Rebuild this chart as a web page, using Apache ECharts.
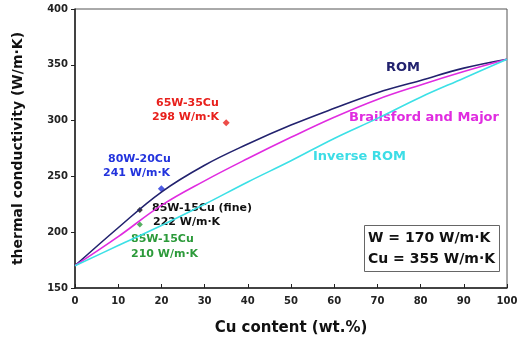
<!DOCTYPE html>
<html>
<head>
<meta charset="utf-8">
<script src="https://cdn.jsdelivr.net/npm/echarts@6/dist/echarts.min.js"></script>
<style>
html, body { margin: 0; padding: 0; background: #fff; }
#chart { width: 525px; height: 345px; }
</style>
</head>
<body>
<div id="chart"></div>
<script>
var cuContent = [0, 10, 20, 30, 40, 50, 60, 70, 80, 90, 100];
var romValues = [170, 204, 236, 260, 279, 296, 311, 325, 336, 347, 355];
var brailsfordValues = [170, 196, 224, 246, 266, 285, 303, 319, 332, 344, 355];
var inverseRomValues = [170, 188, 206, 225, 245, 264, 284, 302, 321, 338, 355];

// measured samples [Cu wt.%, conductivity]
var sample6535 = [[35, 298]];
var sample8020 = [[20, 239]];
var sample8515fine = [[15, 220]];
var sample8515 = [[15, 207]];

var xTicks = { min: 0, max: 100, interval: 10 };
var yTicks = { min: 150, max: 400, interval: 50 };

function pairs(xs, ys) {
	var out = [];
	for (var i = 0; i < xs.length; i++) {
		out.push([xs[i], ys[i]]);
	}
	return out;
}

var myChart = echarts.init(document.getElementById('chart'));
var font = 'DejaVu Sans, Verdana, sans-serif';

function note(x, y, text, color, size) {
	return {
		type: 'text',
		left: x,
		top: y,
		style: {
			text: text,
			fill: color,
			font: 'bold ' + (size || 11) + 'px ' + font
		}
	};
}

var option = {
	animation: false,
	grid: {
		left: 75,
		right: 18,
		top: 9,
		bottom: 57,
		show: true,
		borderColor: '#555',
		borderWidth: 1
	},
	xAxis: {
		type: 'value',
		min: xTicks.min,
		max: xTicks.max,
		interval: xTicks.interval,
		name: 'Cu content (wt.%)',
		nameLocation: 'middle',
		nameGap: 33,
		nameTextStyle: { fontFamily: font, fontWeight: 'bold', fontSize: 15, color: '#111' },
		axisLine: { lineStyle: { color: '#222', width: 1.5 } },
		axisTick: { inside: true, length: 4, lineStyle: { color: '#222' } },
		axisLabel: { fontFamily: font, fontWeight: 'bold', fontSize: 10, color: '#222', margin: 8 },
		splitLine: { show: false }
	},
	yAxis: {
		type: 'value',
		min: yTicks.min,
		max: yTicks.max,
		interval: yTicks.interval,
		name: 'thermal conductivity (W/m·K)',
		nameLocation: 'middle',
		nameGap: 50,
		nameTextStyle: { fontFamily: font, fontWeight: 'bold', fontSize: 14, color: '#111' },
		axisLine: { show: true, lineStyle: { color: '#222', width: 1.5 } },
		axisTick: { show: true, length: 4, lineStyle: { color: '#222' } },
		axisLabel: { fontFamily: font, fontWeight: 'bold', fontSize: 10, color: '#222', margin: 7 },
		splitLine: { show: false }
	},
	series: [
		{
			name: 'ROM',
			type: 'line',
			smooth: 0.4,
			symbol: 'none',
			lineStyle: { color: '#22226e', width: 1.6 },
			data: pairs(cuContent, romValues)
		}, {
			name: 'Brailsford and Major',
			type: 'line',
			smooth: 0.4,
			symbol: 'none',
			lineStyle: { color: '#e02ce0', width: 1.6 },
			data: pairs(cuContent, brailsfordValues)
		}, {
			name: 'Inverse ROM',
			type: 'line',
			smooth: 0.4,
			symbol: 'none',
			lineStyle: { color: '#3ce0e6', width: 1.6 },
			data: pairs(cuContent, inverseRomValues)
		}, {
			type: 'scatter',
			symbol: 'diamond',
			symbolSize: 7,
			itemStyle: { color: '#e8201c' },
			data: sample6535
		}, {
			type: 'scatter',
			symbol: 'diamond',
			symbolSize: 7,
			itemStyle: { color: '#2233dd' },
			data: sample8020
		}, {
			type: 'scatter',
			symbol: 'diamond',
			symbolSize: 6,
			itemStyle: { color: '#111' },
			data: sample8515fine
		}, {
			type: 'scatter',
			symbol: 'diamond',
			symbolSize: 6,
			itemStyle: { color: '#2c9a3a' },
			data: sample8515
		}
	],
	graphic: [
		note(386, 61, 'ROM', '#22226e', 13),
		note(349, 111, 'Brailsford and Major', '#e02ce0', 13),
		note(313, 150, 'Inverse ROM', '#3cdde6', 13),
		note(156, 98, '65W-35Cu', '#e8201c', 11),
		note(152, 112, '298 W/m·K', '#e8201c', 11),
		note(108, 154, '80W-20Cu', '#2233dd', 11),
		note(103, 168, '241 W/m·K', '#2233dd', 11),
		note(152, 203, '85W-15Cu (fine)', '#111', 11),
		note(153, 217, '222 W/m·K', '#111', 11),
		note(131, 234, '85W-15Cu', '#2c9a3a', 11),
		note(131, 249, '210 W/m·K', '#2c9a3a', 11),
		{
			type: 'rect',
			left: 364,
			top: 225,
			shape: { width: 135, height: 46 },
			style: { fill: '#fff', stroke: '#666', lineWidth: 1 }
		},
		note(368, 231, 'W = 170 W/m·K', '#111', 14),
		note(368, 252, 'Cu = 355 W/m·K', '#111', 14)
	]
};

myChart.setOption(option);
</script>
</body>
</html>
